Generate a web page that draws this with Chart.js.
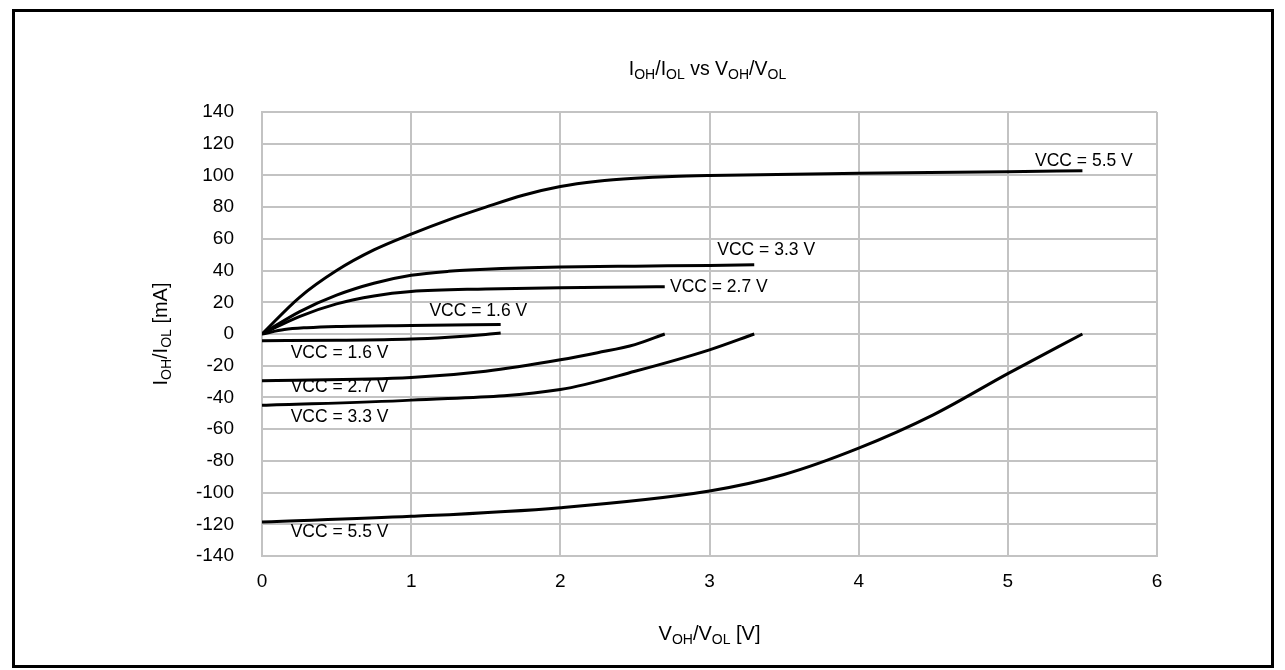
<!DOCTYPE html>
<html>
<head>
<meta charset="utf-8">
<title>IOH/IOL vs VOH/VOL</title>
<script src="https://cdn.jsdelivr.net/npm/chart.js@4/dist/chart.umd.min.js"></script>
<style>
  html, body { margin: 0; padding: 0; background: #fff; }
  #wrap { position: absolute; left: 0; top: 0; width: 1285px; height: 670px; }
  #frame { position: absolute; left: 12px; top: 9px; width: 1262px; height: 659px;
           box-sizing: border-box; border: 3px solid #000; pointer-events: none; }
</style>
</head>
<body>
<div id="wrap"><canvas id="c"></canvas></div>
<div id="frame"></div>
<script>
// Output voltage (V) and current (mA) per supply voltage.
// Source side (IOH, positive current)
const vcc55SrcV = [0, 0.25, 0.5, 0.75, 1, 1.25, 1.5, 1.75, 2, 2.25, 2.5, 2.75, 3, 4, 5, 5.5];
const vcc55SrcI = [0, 23, 40, 53, 63, 72, 80, 87.5, 93, 96.3, 98.2, 99.4, 100, 101.3, 102.3, 103];
const vcc33SrcV = [0, 0.25, 0.5, 0.75, 1, 1.25, 1.5, 2, 2.5, 3, 3.3];
const vcc33SrcI = [0, 14, 24.5, 32, 37, 39.5, 40.8, 42.2, 42.8, 43.2, 43.7];
const vcc27SrcV = [0, 0.25, 0.5, 0.75, 1, 1.5, 2, 2.5, 2.7];
const vcc27SrcI = [0, 11, 19, 24, 26.8, 28.4, 29.2, 29.6, 29.8];
const vcc16SrcV = [0, 0.15, 0.3, 0.5, 1, 1.6];
const vcc16SrcI = [0, 2.8, 4, 4.8, 5.4, 6];
// Sink side (IOL, negative current)
const vcc16SnkV = [0, 0.5, 1, 1.25, 1.5, 1.6];
const vcc16SnkI = [-4.2, -4, -3.2, -2, -0.3, 0.6];
const vcc27SnkV = [0, 1, 1.5, 2, 2.25, 2.5, 2.7];
const vcc27SnkI = [-29.5, -27.5, -23.5, -16.3, -11.8, -6.7, 0];
const vcc33SnkV = [0, 1, 2, 2.5, 3, 3.3];
const vcc33SnkI = [-45, -41.7, -35, -23.5, -10, 0];
const vcc55SnkV = [0, 1, 2, 3, 3.5, 4, 4.5, 5, 5.5];
const vcc55SnkI = [-118.5, -115, -109.5, -99, -88.6, -72, -51, -25, 0];

// Curve captions
const captionText = ['VCC = 5.5 V', 'VCC = 3.3 V', 'VCC = 2.7 V', 'VCC = 1.6 V',
                     'VCC = 1.6 V', 'VCC = 2.7 V', 'VCC = 3.3 V', 'VCC = 5.5 V'];

// Axis ranges and ticks
const xMin = 0, xMax = 6, xStep = 1;
const yMin = -140, yMax = 140, yStep = 20;

// Where each caption sits, in axis units
const captionAt = [
  { x: 5.51, y: 109, align: 'center' },
  { x: 3.38, y: 53, align: 'center' },
  { x: 2.735, y: 29.8, align: 'left' },
  { x: 1.45, y: 14.7, align: 'center' },
  { x: 0.52, y: -11.8, align: 'center' },
  { x: 0.52, y: -33.8, align: 'center' },
  { x: 0.52, y: -52.7, align: 'center' },
  { x: 0.52, y: -125.1, align: 'center' }
];

const FONT = '"Liberation Sans", Arial, sans-serif';

function pts(xs, ys) { return xs.map((x, i) => ({ x: x, y: ys[i] })); }

function curve(xs, ys) {
  return {
    data: pts(xs, ys),
    borderColor: '#000',
    borderWidth: 3,
    pointRadius: 0,
    cubicInterpolationMode: 'monotone',
    fill: false
  };
}

// Draw a run of text pieces where some pieces are subscripts
function drawRich(ctx, parts, x, y, size) {
  const sub = Math.round(size * 0.7);
  let w = 0;
  parts.forEach(p => {
    ctx.font = (p.sub ? sub : size) + 'px ' + FONT;
    p.w = ctx.measureText(p.t).width;
    w += p.w;
  });
  let cx = x - w / 2;
  ctx.textAlign = 'left';
  ctx.textBaseline = 'alphabetic';
  parts.forEach(p => {
    ctx.font = (p.sub ? sub : size) + 'px ' + FONT;
    ctx.fillText(p.t, cx, p.sub ? y + size * 0.2 : y);
    cx += p.w;
  });
}

const decorations = {
  id: 'decorations',
  afterDraw(chart) {
    const ctx = chart.ctx;
    const xs = chart.scales.x, ys = chart.scales.y;
    const area = chart.chartArea;
    const midX = (area.left + area.right) / 2;
    ctx.save();
    ctx.fillStyle = '#000';

    // Title
    drawRich(ctx, [{ t: 'I' }, { t: 'OH', sub: true }, { t: '/I' }, { t: 'OL', sub: true },
                   { t: ' vs V' }, { t: 'OH', sub: true }, { t: '/V' }, { t: 'OL', sub: true }],
             midX - 2, 75, 19.5);

    // X axis title
    drawRich(ctx, [{ t: 'V' }, { t: 'OH', sub: true }, { t: '/V' }, { t: 'OL', sub: true }, { t: ' [V]' }],
             midX, 640, 20);

    // Y axis title (rotated)
    ctx.save();
    ctx.translate(167, (area.top + area.bottom) / 2);
    ctx.rotate(-Math.PI / 2);
    drawRich(ctx, [{ t: 'I' }, { t: 'OH', sub: true }, { t: '/I' }, { t: 'OL', sub: true }, { t: ' [mA]' }],
             0, 0, 20);
    ctx.restore();

    // Curve captions
    ctx.font = '17.5px ' + FONT;
    ctx.textBaseline = 'middle';
    captionText.forEach((t, i) => {
      const c = captionAt[i];
      ctx.textAlign = c.align;
      ctx.fillText(t, xs.getPixelForValue(c.x), ys.getPixelForValue(c.y));
    });
    ctx.restore();
  }
};

new Chart(document.getElementById('c'), {
  type: 'line',
  data: {
    datasets: [
      curve(vcc55SrcV, vcc55SrcI),
      curve(vcc33SrcV, vcc33SrcI),
      curve(vcc27SrcV, vcc27SrcI),
      curve(vcc16SrcV, vcc16SrcI),
      curve(vcc16SnkV, vcc16SnkI),
      curve(vcc27SnkV, vcc27SnkI),
      curve(vcc33SnkV, vcc33SnkI),
      curve(vcc55SnkV, vcc55SnkI)
    ]
  },
  options: {
    responsive: true,
    maintainAspectRatio: false,
    animation: false,
    layout: { padding: { left: 0, top: 112, right: 128, bottom: 0 } },
    plugins: {
      legend: { display: false },
      tooltip: { enabled: false },
      title: { display: false }
    },
    scales: {
      x: {
        type: 'linear',
        min: xMin, max: xMax,
        ticks: { stepSize: xStep, color: '#000', font: { family: FONT, size: 19 }, padding: 14, maxRotation: 0 },
        grid: { color: '#c3c3c3', lineWidth: 2, drawTicks: false },
        border: { color: '#c3c3c3', width: 2 },
        afterFit(scale) { scale.height = 114; }
      },
      y: {
        type: 'linear',
        min: yMin, max: yMax,
        ticks: { stepSize: yStep, color: '#000', font: { family: FONT, size: 19 }, padding: 28 },
        grid: { color: '#c3c3c3', lineWidth: 2, drawTicks: false },
        border: { color: '#c3c3c3', width: 2 },
        afterFit(scale) { scale.width = 262; }
      }
    }
  },
  plugins: [decorations]
});
</script>
</body>
</html>
